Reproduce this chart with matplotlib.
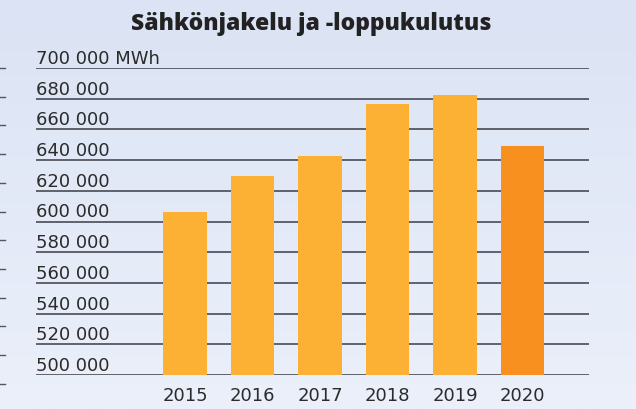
import numpy as np
import matplotlib
matplotlib.use("Agg")
import matplotlib.pyplot as plt
from matplotlib.lines import Line2D

years = ["2015", "2016", "2017", "2018", "2019", "2020"]
values = [606400, 629600, 642900, 676500, 682400, 649400]
bar_colors = ["#fcb034"] * 5 + ["#f7901e"]
yticks = list(range(500000, 700001, 20000))


def fmt(v):
    return f"{v:,}".replace(",", " ")


plt.rcParams["font.family"] = ["DejaVu Sans"]
fig = plt.figure(figsize=(6.36, 4.10), dpi=100)

# light blue gradient background
bg = fig.add_axes([0, 0, 1, 1], zorder=-10)
grad = np.linspace(0, 1, 256).reshape(-1, 1)
bg.imshow(grad, aspect="auto", cmap=matplotlib.colors.LinearSegmentedColormap.from_list(
    "bg", ["#dbe3f4", "#ebf0fa"]), extent=[0, 1, 0, 1], origin="upper")
bg.axis("off")

ax = fig.add_axes([36 / 636, 34 / 410, 553 / 636, 307 / 410])
ax.set_facecolor("none")
x = np.arange(len(years))
ax.bar(x, np.array(values) - 500000, bottom=500000, width=0.64,
       color=bar_colors, zorder=3)
ax.set_xlim(-2.207, 5.986)
ax.set_ylim(500000, 700000)

for v in yticks:
    ax.axhline(v, color="#3c3c46", linewidth=1.1, zorder=2)
    label = fmt(v) + (" MWh" if v == yticks[-1] else "")
    ax.text(0.0, v + 700, label, transform=ax.get_yaxis_transform(),
            ha="left", va="bottom", fontsize=13, color="#2b2b2b")

for xi, yr in zip(x, years):
    ax.text(xi, -0.035, yr, transform=ax.get_xaxis_transform(),
            ha="center", va="top", fontsize=13, color="#2b2b2b")

for s in ax.spines.values():
    s.set_visible(False)
ax.set_xticks([])
ax.set_yticks([])

# small stub marks at the left edge
for i in range(12):
    yy = 1 - (69 + i * 28.7) / 410
    fig.add_artist(Line2D([0, 5 / 636], [yy, yy], color="#555560", linewidth=1))

fig.text(311 / 636, 1 - 24 / 410, "Sähkönjakelu ja -loppukulutus",
         ha="center", va="center", fontsize=16.5, fontweight=800,
         color="#222222", family=["Open Sans", "DejaVu Sans"])

fig.savefig("out.png", dpi=100)
